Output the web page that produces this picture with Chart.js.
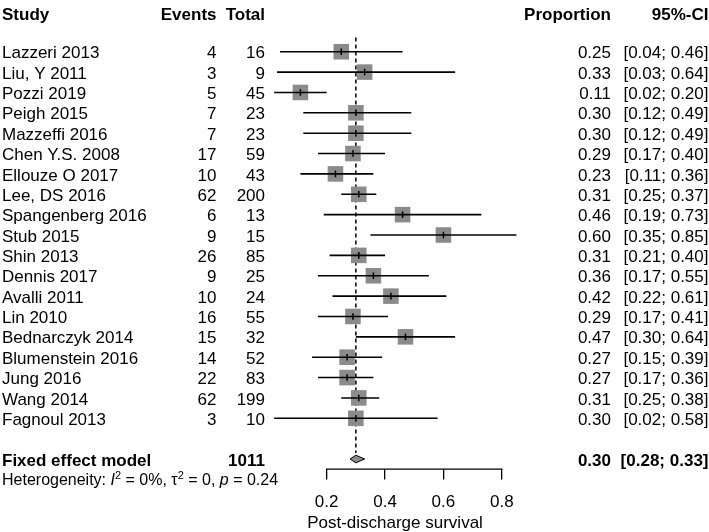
<!DOCTYPE html>
<html><head><meta charset="utf-8">
<script src="https://cdn.jsdelivr.net/npm/chart.js@4.4.1/dist/chart.umd.min.js"></script>
<style>html,body{margin:0;padding:0;background:#fff}#wrap{width:709px;height:532px;position:relative}</style>
</head><body><div id="wrap"><canvas id="c"></canvas></div>
<script>
// ---- data ----
const studies = ["Lazzeri 2013","Liu, Y 2011","Pozzi 2019","Peigh 2015","Mazzeffi 2016","Chen Y.S. 2008","Ellouze O 2017","Lee, DS 2016","Spangenberg 2016","Stub 2015","Shin 2013","Dennis 2017","Avalli 2011","Lin 2010","Bednarczyk 2014","Blumenstein 2016","Jung 2016","Wang 2014","Fagnoul 2013"];
const events = [4,3,5,7,7,17,10,62,6,9,26,9,10,16,15,14,22,62,3];
const totals = [16,9,45,23,23,59,43,200,13,15,85,25,24,55,32,52,83,199,10];
const proportions = [0.25,0.33,0.11,0.30,0.30,0.29,0.23,0.31,0.46,0.60,0.31,0.36,0.42,0.29,0.47,0.27,0.27,0.31,0.30];
const ciLower = [0.04,0.03,0.02,0.12,0.12,0.17,0.11,0.25,0.19,0.35,0.21,0.17,0.22,0.17,0.30,0.15,0.17,0.25,0.02];
const ciUpper = [0.46,0.64,0.20,0.49,0.49,0.40,0.36,0.37,0.73,0.85,0.40,0.55,0.61,0.41,0.64,0.39,0.36,0.38,0.58];
const pooledLabel = "Fixed effect model";
const pooledTotal = 1011;
const pooledEstimate = [0.30];
const pooledLower = [0.28];
const pooledUpper = [0.33];
const xTicks = [0.2, 0.4, 0.6, 0.8];
const headers = ["Study","Events","Total","Proportion","95%-CI"];
const xTitle = "Post-discharge survival";
const hetI2 = "0%", hetTau2 = "0", hetP = "0.24";

// ---- layout (rows) ----
const pooledRow = studies.length + 1;
const hetRow = pooledRow + 1;
const headerRow = -1.9;
const FONT = '"Liberation Sans", Arial, sans-serif';
const fmt = v => v.toFixed(2);

const datasets = [];
// estimate tick marks (on top)
datasets.push({
  data: proportions.map((p,i)=>({x:p,y:i})),
  pointStyle:'line', rotation:90, pointRadius:3.3, borderColor:'#000', borderWidth:1.5,
  backgroundColor:'#000', clip:false, order:0
});
// CI lines
studies.forEach((s,i)=>{
  datasets.push({
    data:[{x:ciLower[i],y:i},{x:ciUpper[i],y:i}], showLine:true,
    borderColor:'#000', borderWidth:1.6, pointRadius:0, clip:false, order:1
  });
});
// squares
datasets.push({
  data: proportions.map((p,i)=>({x:p,y:i})),
  pointStyle:'rect', pointRadius:11, backgroundColor:'#8b8b8b', borderWidth:0, clip:false, order:2
});
// reference (pooled) dashed line
datasets.push({
  data:[{x:pooledEstimate[0],y:-0.7},{x:pooledEstimate[0],y:pooledRow-0.3}], showLine:true,
  borderColor:'#000', borderWidth:1.5, borderDash:[4,3], pointRadius:0, clip:false, order:5
});

const textPlugin = {
  id:'forestText',
  afterDatasetsDraw(chart){
    const ctx = chart.ctx, xs = chart.scales.x, ys = chart.scales.y;
    const area = chart.chartArea;
    // diamond
    const yd = ys.getPixelForValue(pooledRow);
    ctx.save();
    ctx.beginPath();
    ctx.moveTo(xs.getPixelForValue(pooledLower[0]), yd);
    ctx.lineTo(xs.getPixelForValue(pooledEstimate[0]), yd-3.8);
    ctx.lineTo(xs.getPixelForValue(pooledUpper[0]), yd);
    ctx.lineTo(xs.getPixelForValue(pooledEstimate[0]), yd+3.8);
    ctx.closePath();
    ctx.fillStyle='#8b8b8b'; ctx.fill();
    ctx.lineWidth=1; ctx.strokeStyle='#000'; ctx.stroke();
    // axis line between the first and last tick
    ctx.beginPath();
    ctx.moveTo(xs.getPixelForValue(xTicks[0])-0.65, area.bottom+0.5);
    ctx.lineTo(xs.getPixelForValue(xTicks[xTicks.length-1])+0.65, area.bottom+0.5);
    ctx.lineWidth=1.3; ctx.stroke();
    ctx.restore();
  },
  afterDraw(chart){
    const ctx = chart.ctx, ys = chart.scales.y;
    const base = r => ys.getPixelForValue(r) + 6.6;
    const colX = {study:2, events:216.5, total:265, prop:611, ci:708.5};
    ctx.save();
    ctx.fillStyle='#000';
    ctx.textBaseline='alphabetic';
    const put = (t,x,y,align,bold,size) => {
      ctx.font = (bold?'bold ':'') + (size||17) + 'px ' + FONT;
      ctx.textAlign = align; ctx.fillText(t,x,y);
    };
    // header
    const hy = base(headerRow);
    put(headers[0],colX.study,hy,'left',true);
    put(headers[1],colX.events,hy,'right',true);
    put(headers[2],colX.total,hy,'right',true);
    put(headers[3],colX.prop,hy,'right',true);
    put(headers[4],colX.ci,hy,'right',true);
    // study rows
    studies.forEach((s,i)=>{
      const y = base(i);
      put(s,colX.study,y,'left',false);
      put(String(events[i]),colX.events,y,'right',false);
      put(String(totals[i]),colX.total,y,'right',false);
      put(fmt(proportions[i]),colX.prop,y,'right',false);
      put('['+fmt(ciLower[i])+'; '+fmt(ciUpper[i])+']',colX.ci,y,'right',false);
    });
    // pooled row
    const py = base(pooledRow);
    put(pooledLabel,colX.study,py,'left',true);
    put(String(pooledTotal),colX.total,py,'right',true);
    put(fmt(pooledEstimate[0]),colX.prop,py,'right',true);
    put('['+fmt(pooledLower[0])+'; '+fmt(pooledUpper[0])+']',colX.ci,py,'right',true);
    // heterogeneity
    const hyy = ys.getPixelForValue(hetRow) + 6;
    const parts = [
      ['Heterogeneity: ','n'],['I','i'],['2','s'],[' = '+hetI2+', ','n'],['\u03C4','n'],['2','s'],
      [' = '+hetTau2+', ','n'],['p','i'],[' = '+hetP,'n']
    ];
    let x = colX.study;
    ctx.textAlign='left';
    parts.forEach(([t,k])=>{
      if(k==='s'){ ctx.font='11px '+FONT; ctx.fillText(t,x,hyy-6.5); }
      else { ctx.font=(k==='i'?'italic ':'')+'16px '+FONT; ctx.fillText(t,x,hyy); }
      x += ctx.measureText(t).width;
    });
    // axis title
    put(xTitle,395,528,'center',false);
    ctx.restore();
  }
};

new Chart(document.getElementById('c'), {
  type:'scatter',
  data:{datasets},
  options:{
    responsive:true, maintainAspectRatio:false, animation:false,
    layout:{padding:{left:268.3,right:148.8,top:6.1,bottom:6}},
    plugins:{legend:{display:false},tooltip:{enabled:false}},
    scales:{
      x:{type:'linear',min:0,max:1,
        afterBuildTicks: s => { s.ticks = xTicks.map(v=>({value:v})); },
        ticks:{callback:v=>Number(v).toFixed(1),color:'#000',font:{family:FONT,size:17},padding:13,maxRotation:0,autoSkip:false},
        grid:{drawOnChartArea:false,drawTicks:true,tickLength:11,color:'#000',lineWidth:1.3},
        border:{display:false}
      },
      y:{type:'linear',reverse:true,min:-2,max:20.47,display:false}
    }
  },
  plugins:[textPlugin]
});
</script>
</body></html>
